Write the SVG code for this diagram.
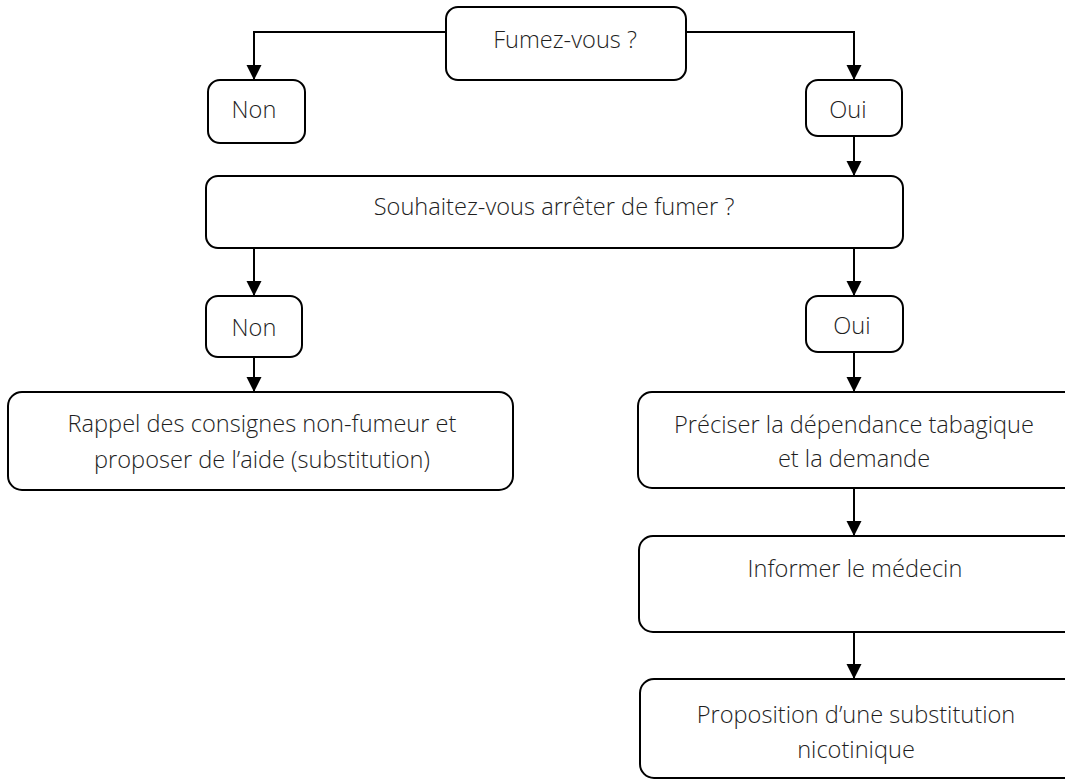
<svg xmlns="http://www.w3.org/2000/svg" width="1065" height="780" viewBox="0 0 1065 780">
<style>
.box{fill:#fff;stroke:#000;stroke-width:2}
.t{font-family:"Open Sans","Liberation Sans",sans-serif;font-weight:300;font-size:23.6px;fill:#1e1e1e;text-anchor:middle}
.c{fill:none;stroke:#000;stroke-width:2}
</style>
<defs>
<marker id="ah" markerUnits="userSpaceOnUse" markerWidth="16" markerHeight="16" refX="15" refY="7.5" orient="auto">
<path d="M0,0 L15,7.5 L0,15 z" fill="#000"/>
</marker>
</defs>
<rect width="1065" height="780" fill="#fff"/>
<g id="connectors">
<path class="c" d="M446,32 H254 V80" marker-end="url(#ah)"/>
<path class="c" d="M686,32 H854 V80" marker-end="url(#ah)"/>
<path class="c" d="M854,136 V176" marker-end="url(#ah)"/>
<path class="c" d="M254,248 V296" marker-end="url(#ah)"/>
<path class="c" d="M854,248 V296" marker-end="url(#ah)"/>
<path class="c" d="M254,357 V392" marker-end="url(#ah)"/>
<path class="c" d="M854,352 V392" marker-end="url(#ah)"/>
<path class="c" d="M854,488 V536" marker-end="url(#ah)"/>
<path class="c" d="M854,632 V679" marker-end="url(#ah)"/>
</g>
<g id="fumez">
<rect class="box" x="446" y="7" width="240" height="73" rx="12"/>
<text class="t" x="565" y="48">Fumez-vous ?</text>
</g>
<g id="non1">
<rect class="box" x="208" y="80" width="97" height="63" rx="12"/>
<text class="t" x="254" y="118">Non</text>
</g>
<g id="oui1">
<rect class="box" x="806" y="80" width="96" height="56" rx="12"/>
<text class="t" x="848" y="118">Oui</text>
</g>
<g id="souhaitez">
<rect class="box" x="206" y="176" width="697" height="72" rx="12"/>
<text class="t" x="554" y="215">Souhaitez-vous arrêter de fumer ?</text>
</g>
<g id="non2">
<rect class="box" x="206" y="296" width="96" height="61" rx="12"/>
<text class="t" x="254" y="336">Non</text>
</g>
<g id="oui2">
<rect class="box" x="806" y="296" width="97" height="56" rx="12"/>
<text class="t" x="852" y="334">Oui</text>
</g>
<g id="rappel">
<rect class="box" x="8" y="392" width="505" height="98" rx="14"/>
<text class="t" x="262" y="432">Rappel des consignes non-fumeur et</text>
<text class="t" x="262" y="468">proposer de l’aide (substitution)</text>
</g>
<g id="preciser">
<rect class="box" x="638" y="392" width="440" height="96" rx="14"/>
<text class="t" x="854" y="433">Préciser la dépendance tabagique</text>
<text class="t" x="854" y="467">et la demande</text>
</g>
<g id="informer">
<rect class="box" x="639" y="536" width="440" height="96" rx="14"/>
<text class="t" x="855" y="577">Informer le médecin</text>
</g>
<g id="proposition">
<rect class="box" x="640" y="679" width="440" height="99" rx="14"/>
<text class="t" x="856" y="723">Proposition d’une substitution</text>
<text class="t" x="856" y="758">nicotinique</text>
</g>
</svg>
